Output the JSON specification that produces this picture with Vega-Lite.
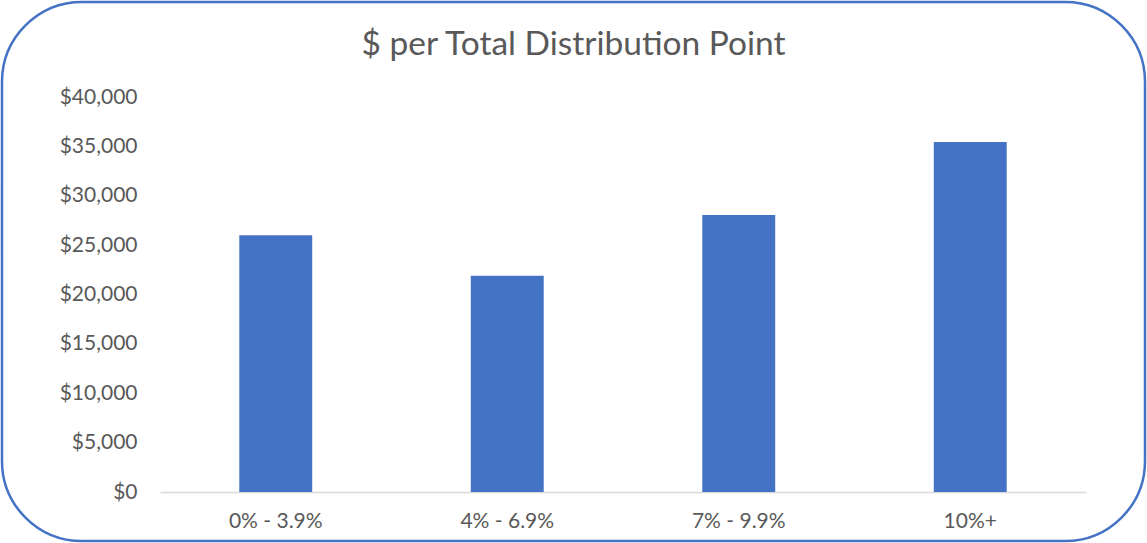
{
  "$schema": "https://vega.github.io/schema/vega-lite/v6.json",
  "autosize": {"type": "none"},
  "width": 1143,
  "height": 539,
  "padding": {"left": 2, "top": 2, "right": 2, "bottom": 2},
  "background": "white",
  "title": {
    "text": "$ per Total Distribution Point",
    "font": "Lato",
    "fontSize": 33.5,
    "fontWeight": "normal",
    "color": "#595959",
    "anchor": "middle",
    "baseline": "alphabetic",
    "offset": -86
  },
  "data": {
    "values": [
      {"range": "0% - 3.9%", "value": 26000},
      {"range": "4% - 6.9%", "value": 21900},
      {"range": "7% - 9.9%", "value": 28050},
      {"range": "10%+", "value": 35450}
    ]
  },
  "mark": {"type": "bar", "color": "#4472C4"},
  "encoding": {
    "x": {
      "field": "range",
      "type": "nominal",
      "sort": null,
      "scale": {"range": [158, 1084], "paddingInner": 0.685, "paddingOuter": 0.3425},
      "axis": {
        "title": null,
        "labelAngle": 0,
        "ticks": false,
        "domain": true,
        "domainColor": "#D9D9D9",
        "domainWidth": 1.5,
        "offset": -49,
        "labelPadding": 18,
        "labelFont": "Lato",
        "labelFontSize": 21,
        "labelColor": "#595959",
        "grid": false
      }
    },
    "y": {
      "field": "value",
      "type": "quantitative",
      "scale": {"domain": [0, 40000], "range": [490, 95], "nice": false},
      "axis": {
        "title": null,
        "values": [0, 5000, 10000, 15000, 20000, 25000, 30000, 35000, 40000],
        "format": "$,.0f",
        "ticks": false,
        "domain": false,
        "grid": false,
        "offset": -135,
        "labelPadding": 0,
        "labelFont": "Lato",
        "labelFontSize": 21,
        "labelColor": "#595959"
      }
    }
  },
  "config": {
    "view": {"stroke": "#4472C4", "strokeWidth": 2.5, "cornerRadius": 80, "fill": "white"}
  }
}
